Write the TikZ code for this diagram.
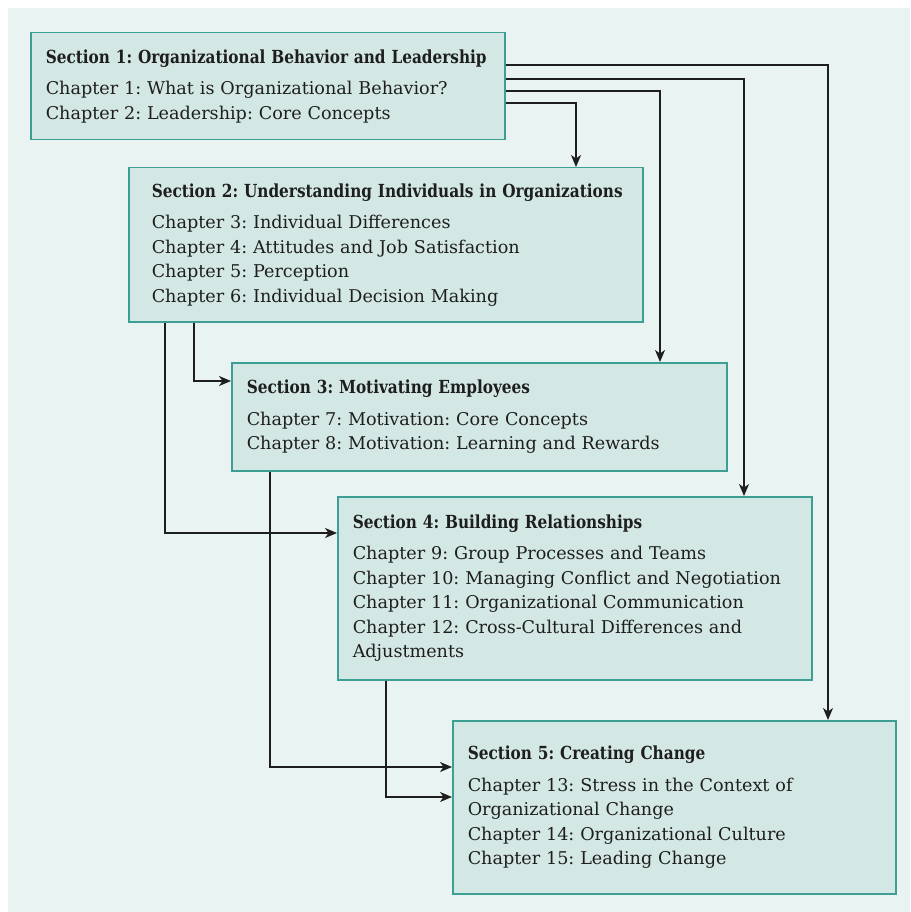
\documentclass[tikz,border=0pt]{standalone}
\usepackage{fontspec}
\setmainfont{DejaVu Serif}[BoldFeatures={FakeStretch=0.85}]
\usetikzlibrary{arrows.meta}
\definecolor{bgteal}{HTML}{E9F3F1}
\definecolor{boxfill}{HTML}{D3E8E5}
\definecolor{boxline}{HTML}{3D9E93}
\definecolor{ink}{HTML}{1E1E1E}
\newcommand{\sectitle}[1]{\mbox{\fontsize{18}{24.5}\selectfont\bfseries #1}}
\begin{document}
\frenchspacing
\begin{tikzpicture}[x=1pt,y=-1pt,
  secbox/.style={draw=boxline, fill=boxfill, line width=1.5pt, anchor=north west,
    align=left, inner xsep=15pt, inner ysep=0pt,
    font=\fontsize{17.6}{24.5}\selectfont\frenchspacing, text=ink},
  conn/.style={draw=ink, line width=1.2pt, -{Stealth[length=12pt,width=10pt,inset=3.5pt]}}]
\useasboundingbox (0,0) rectangle (910,912);
\fill[bgteal] (8,8) rectangle (910,912);

% section boxes
\node[secbox, minimum width=474pt, minimum height=107pt, text width=444pt] (s1) at (30,32)
  {\sectitle{Section 1: Organizational Behavior and Leadership}\\[7pt]
   Chapter 1: What is Organizational Behavior?\\
   Chapter 2: Leadership: Core Concepts};
\node[secbox, inner xsep=19pt, minimum width=514pt, minimum height=154pt, text width=476pt] (s2) at (128,167)
  {\hspace*{4pt}\sectitle{Section 2: Understanding Individuals in Organizations}\\[7pt]
   \hspace*{4pt}Chapter 3: Individual Differences\\
   \hspace*{4pt}Chapter 4: Attitudes and Job Satisfaction\\
   \hspace*{4pt}Chapter 5: Perception\\
   \hspace*{4pt}Chapter 6: Individual Decision Making};
\node[secbox, minimum width=495pt, minimum height=108pt, text width=465pt] (s3) at (231,362)
  {\sectitle{Section 3: Motivating Employees}\\[7pt]
   Chapter 7: Motivation: Core Concepts\\
   Chapter 8: Motivation: Learning and Rewards};
\node[secbox, minimum width=474pt, minimum height=183pt, text width=444pt] (s4) at (337,496)
  {\sectitle{Section 4: Building Relationships}\\[7pt]
   Chapter 9: Group Processes and Teams\\
   Chapter 10: Managing Conflict and Negotiation\\
   Chapter 11: Organizational Communication\\
   Chapter 12: Cross-Cultural Differences and\\
   Adjustments};
\node[secbox, minimum width=443pt, minimum height=173pt, text width=413pt] (s5) at (452,720)
  {\sectitle{Section 5: Creating Change}\\[7pt]
   Chapter 13: Stress in the Context of\\
   Organizational Change\\
   Chapter 14: Organizational Culture\\
   Chapter 15: Leading Change};

% routing points of the connectors
\coordinate (r1) at (828,65);
\coordinate (r2) at (744,79);
\coordinate (r3) at (660,91);
\coordinate (r4) at (576,103);
\coordinate (r5) at (194,381);
\coordinate (r6) at (165,533);
\coordinate (r7) at (270,767);
\coordinate (r8) at (386,797);

\draw[conn] (s1.east |- r1) -| (s5.north -| r1);
\draw[conn] (s1.east |- r2) -| (s4.north -| r2);
\draw[conn] (s1.east |- r3) -| (s3.north -| r3);
\draw[conn] (s1.east |- r4) -| (s2.north -| r4);
\draw[conn] (s2.south -| r5) |- (s3.west |- r5);
\draw[conn] (s2.south -| r6) |- (s4.west |- r6);
\draw[conn] (s3.south -| r7) |- (s5.west |- r7);
\draw[conn] (s4.south -| r8) |- (s5.west |- r8);
\end{tikzpicture}
\end{document}
